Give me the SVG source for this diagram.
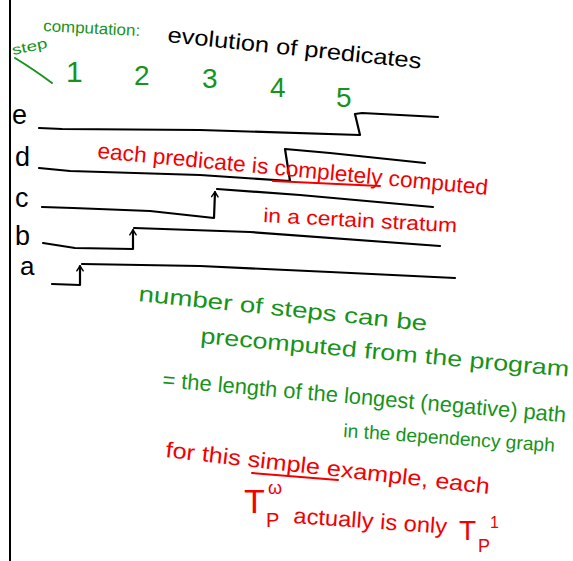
<svg xmlns="http://www.w3.org/2000/svg" width="573" height="561" viewBox="0 0 573 561">
<defs>
<style>
.g{fill:#17931a;font-family:"Liberation Sans","DejaVu Sans",sans-serif}
.r{fill:#f20000;font-family:"Liberation Sans","DejaVu Sans",sans-serif}
.k{fill:#000;font-family:"Liberation Sans","DejaVu Sans",sans-serif}
.ln{fill:none;stroke:#000;stroke-width:2.2;stroke-linecap:round;stroke-linejoin:round}
.ul{fill:none;stroke-width:2;stroke-linecap:round}
</style>
<marker id="ah" viewBox="0 0 10 10" refX="8" refY="5" markerWidth="8" markerHeight="8" orient="auto" markerUnits="userSpaceOnUse">
<path d="M2,1 L8,5 L2,9" fill="none" stroke="#000" stroke-width="1.8" stroke-linecap="round" stroke-linejoin="round"/>
</marker>
</defs>
<rect width="573" height="561" fill="#fff"/>
<line x1="10" y1="0" x2="10" y2="561" stroke="#000" stroke-width="2"/>

<g id="title">
<text class="g" x="43" y="31" font-size="16" textLength="97" lengthAdjust="spacingAndGlyphs" transform="rotate(3 43 31)">computation:</text>
<text class="k" x="167" y="42" font-size="22" textLength="255" lengthAdjust="spacingAndGlyphs" transform="rotate(6 167 42)">evolution of predicates</text>
</g>

<g id="steps">
<text class="g" x="13" y="55" font-size="14" textLength="36" lengthAdjust="spacingAndGlyphs" transform="rotate(-12 13 55)">step</text>
<path d="M15,58 C28,66 40,74 52,83" fill="none" stroke="#17931a" stroke-width="2" stroke-linecap="round"/>
<text class="g" x="66" y="82" font-size="30">1</text>
<text class="g" x="134" y="85" font-size="28">2</text>
<text class="g" x="202" y="88" font-size="28">3</text>
<text class="g" x="270" y="97" font-size="28">4</text>
<text class="g" x="336" y="107" font-size="28">5</text>
</g>

<g id="labels">
<text class="k" x="12" y="124" font-size="27">e</text>
<text class="k" x="15" y="166" font-size="27">d</text>
<text class="k" x="15" y="207" font-size="27">c</text>
<text class="k" x="15" y="245" font-size="27">b</text>
<text class="k" x="20" y="275" font-size="26">a</text>
</g>

<g id="connectors">
<path id="line-e" class="ln" d="M39,128 L62,129 L200,130 L360,135 L355,114 L362,113 L438,117"/>
<path id="line-d" class="ln" d="M39,168 L70,171 L200,175 L290,181 L285,149 L330,153 L425,163"/>
<path id="line-c" class="ln" d="M42,207 L73,208 L150,211 L214,218 L215,192" marker-end="url(#ah)"/>
<path class="ln" d="M217,189 L300,195 L433,207"/>
<path id="line-b" class="ln" d="M43,243 L75,248 L133,249 L133,230" marker-end="url(#ah)"/>
<path class="ln" d="M134,228 L250,232 L440,246"/>
<path id="line-a" class="ln" d="M52,284 L80,285 L80,266" marker-end="url(#ah)"/>
<path class="ln" d="M82,264 L200,266 L330,272 L455,278"/>
</g>

<g id="note-stratum">
<text class="r" x="97" y="158" font-size="22" textLength="392" lengthAdjust="spacingAndGlyphs" transform="rotate(5.4 97 158)">each predicate is completely computed</text>
<path class="ul" stroke="#f20000" d="M273,181 L380,186"/>
<text class="r" x="263" y="222" font-size="20" textLength="194" lengthAdjust="spacingAndGlyphs" transform="rotate(3 263 222)">in a certain stratum</text>
</g>

<g id="note-steps">
<text class="g" x="138" y="301" font-size="22" textLength="290" lengthAdjust="spacingAndGlyphs" transform="rotate(5.9 138 301)">number of steps can be</text>
<text class="g" x="200" y="343" font-size="22" textLength="370" lengthAdjust="spacingAndGlyphs" transform="rotate(5.2 200 343)">precomputed from the program</text>
<text class="g" x="162" y="387" font-size="22" textLength="405" lengthAdjust="spacingAndGlyphs" transform="rotate(5 162 387)">= the length of the longest (negative) path</text>
<text class="g" x="343" y="437" font-size="19" textLength="212" lengthAdjust="spacingAndGlyphs" transform="rotate(4 343 437)">in the dependency graph</text>
</g>

<g id="note-example">
<text class="r" x="165" y="457" font-size="22" textLength="326" lengthAdjust="spacingAndGlyphs" transform="rotate(6.5 165 457)">for this simple example, each</text>
<path class="ul" stroke="#f20000" d="M252,473 L338,480"/>
<text class="r" x="244" y="513" font-size="34">T</text>
<text class="r" x="266" y="527" font-size="20">P</text>
<text class="r" x="268" y="494" font-size="18">ω</text>
<text class="r" x="293" y="523" font-size="22" textLength="154" lengthAdjust="spacingAndGlyphs" transform="rotate(4 293 523)">actually is only</text>
<text class="r" x="459" y="540" font-size="28">T</text>
<text class="r" x="478" y="552" font-size="18">P</text>
<text class="r" x="490" y="528" font-size="16">1</text>
</g>
</svg>
